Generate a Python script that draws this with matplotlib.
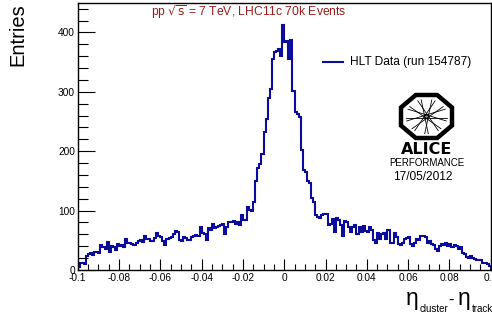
import matplotlib
matplotlib.use('Agg')
import matplotlib.pyplot as plt
import numpy as np
from matplotlib.patches import Polygon, Ellipse
from matplotlib.lines import Line2D
from matplotlib.ticker import MultipleLocator, FuncFormatter
from matplotlib.transforms import ScaledTranslation

plt.rcParams['font.family'] = ['Liberation Sans', 'DejaVu Sans']
plt.rcParams['mathtext.fontset'] = 'dejavusans'
plt.rcParams['axes.unicode_minus'] = False

# ---------------- data ----------------
x_min, x_max, n_bins = -0.1, 0.1, 200
counts = [
    5, 12, 11, 10, 24, 27, 29, 26, 31, 30,
    28, 42, 38, 36, 47, 30, 40, 38, 33, 44,
    40, 42, 38, 52, 46, 45, 44, 42, 46, 48,
    50, 47, 58, 52, 52, 49, 48, 54, 62, 58,
    56, 48, 42, 52, 54, 56, 60, 66, 64, 50,
    48, 55, 54, 51, 50, 56, 58, 59, 57, 73,
    63, 60, 51, 70, 68, 77, 70, 72, 74, 76,
    78, 60, 73, 80, 81, 82, 78, 80, 76, 92,
    84, 84, 106, 101, 100, 115, 150, 172, 178, 195,
    232, 255, 290, 305, 355, 367, 368, 372, 360, 412,
    384, 385, 355, 388, 302, 266, 262, 258, 202, 168,
    165, 150, 146, 121, 115, 92, 90, 88, 92, 95,
    95, 76, 78, 86, 64, 88, 84, 76, 57, 83,
    80, 72, 64, 73, 76, 61, 72, 64, 74, 66,
    64, 72, 67, 50, 45, 62, 52, 60, 62, 53,
    67, 46, 45, 62, 56, 44, 42, 46, 52, 54,
    55, 44, 40, 46, 52, 50, 57, 58, 56, 46,
    48, 44, 42, 36, 32, 40, 44, 42, 45, 40,
    44, 38, 42, 40, 36, 38, 28, 27, 22, 21,
    24, 20, 19, 17, 17, 16, 12, 12, 10, 7,
]
y_max = 450
title_text = r'pp $\sqrt{\mathrm{s}}$ = 7 TeV, LHC11c 70k Events'
legend_label = 'HLT Data (run 154787)'
y_label = 'Entries'
date_text = '17/05/2012'

# ---------------- figure ----------------
W, H = 492, 320
fig = plt.figure(figsize=(W / 100, H / 100), dpi=100)
fig.patch.set_facecolor('white')


def fx(px):
    return px / W


def fy(py):
    return 1 - py / H


ax = fig.add_axes([fx(77.7), fy(270), (490.7 - 77.7) / W, (270 - 2.7) / H])
edges = np.linspace(x_min, x_max, n_bins + 1)
hist_color = '#0B0B9C'
ax.stairs(counts, edges, color=hist_color, lw=1.5)
ax.set_xlim(x_min, x_max)
ax.set_ylim(0, y_max)

ax.xaxis.set_major_locator(MultipleLocator(0.02))
ax.xaxis.set_minor_locator(MultipleLocator(0.005))
ax.yaxis.set_major_locator(MultipleLocator(100))
ax.yaxis.set_minor_locator(MultipleLocator(20))


def xfmt(v, pos):
    v = round(v, 4)
    if abs(v) < 1e-9:
        return '0'
    return f'{v:g}'


ax.xaxis.set_major_formatter(FuncFormatter(xfmt))
ax.yaxis.set_major_formatter(FuncFormatter(lambda v, p: f'{int(round(v))}'))
ax.tick_params(which='both', direction='in', top=False, right=False,
               labelsize=7.3, width=0.8, color='black')
ax.tick_params(axis='x', which='major', length=8, pad=2)
ax.tick_params(axis='x', which='minor', length=4)
ax.tick_params(axis='y', which='major', length=12, pad=2)
ax.tick_params(axis='y', which='minor', length=7)
for s in ax.spines.values():
    s.set_linewidth(1.0)

# nudge the y "0" label up slightly (as in the reference)
fig.canvas.draw()
t0 = ax.yaxis.get_major_ticks()[0].label1
t0.set_transform(t0.get_transform() +
                 ScaledTranslation(0, 2.5 / 72, fig.dpi_scale_trans))

# title
fig.text(fx(249), fy(12.5), title_text, ha='center', va='center',
         color='#9A1C1C', fontsize=8.7)

# y label
fig.text(fx(18), fy(3), y_label, rotation=90, ha='center', va='top',
         fontsize=14.5)

# x label pieces
fig.text(fx(406), fy(305), 'η', ha='left', va='baseline', fontsize=16.5)
fig.text(fx(419.5), fy(312), 'cluster', ha='left', va='baseline', fontsize=7)
fig.text(fx(448.5), fy(305), '-', ha='left', va='baseline', fontsize=12)
fig.text(fx(458), fy(305), 'η', ha='left', va='baseline', fontsize=16.5)
fig.text(fx(471.5), fy(312), 'track', ha='left', va='baseline', fontsize=7)

# legend
fig.add_artist(Line2D([fx(323), fx(343)], [fy(62), fy(62)],
                      color=hist_color, lw=1.5))
fig.text(fx(350), fy(62), legend_label, ha='left', va='center', fontsize=8.6)

# ALICE logo
axl = fig.add_axes([fx(401), fy(138), 51 / W, 43 / H])
axl.set_xlim(0, 1)
axl.set_ylim(0, 1)
axl.axis('off')
c = 0.29
oct_pts = [(c, 0), (1 - c, 0), (1, c), (1, 1 - c), (1 - c, 1), (c, 1),
           (0, 1 - c), (0, c)]
axl.add_patch(Polygon(oct_pts, closed=True, facecolor='white',
                      edgecolor='black', lw=3.2, joinstyle='miter',
                      clip_on=False))
for k, ang in enumerate(np.linspace(0, np.pi, 10)[:-1]):
    off = 0.035 * (1 if k % 2 else -1)
    dx, dy = np.cos(ang) * 0.40, np.sin(ang) * 0.40
    px, py = -np.sin(ang) * off, np.cos(ang) * off
    axl.plot([0.5 - dx + px, 0.5 + dx + px], [0.5 - dy + py, 0.5 + dy + py],
             color='black', lw=0.6, clip_on=False)
axl.add_patch(Ellipse((0.5, 0.5), 0.1, 0.12, facecolor='#999999',
                      edgecolor='none'))

fig.text(fx(427), fy(149.5), 'ALICE', ha='center', va='center',
         fontsize=11.5, family='DejaVu Sans', weight='bold')
fig.text(fx(426.5), fy(163.5), 'PERFORMANCE', ha='center', va='center',
         fontsize=7)
fig.text(fx(423), fy(177), date_text, ha='center', va='center',
         fontsize=8.6)

fig.savefig('out.png', dpi=100)
